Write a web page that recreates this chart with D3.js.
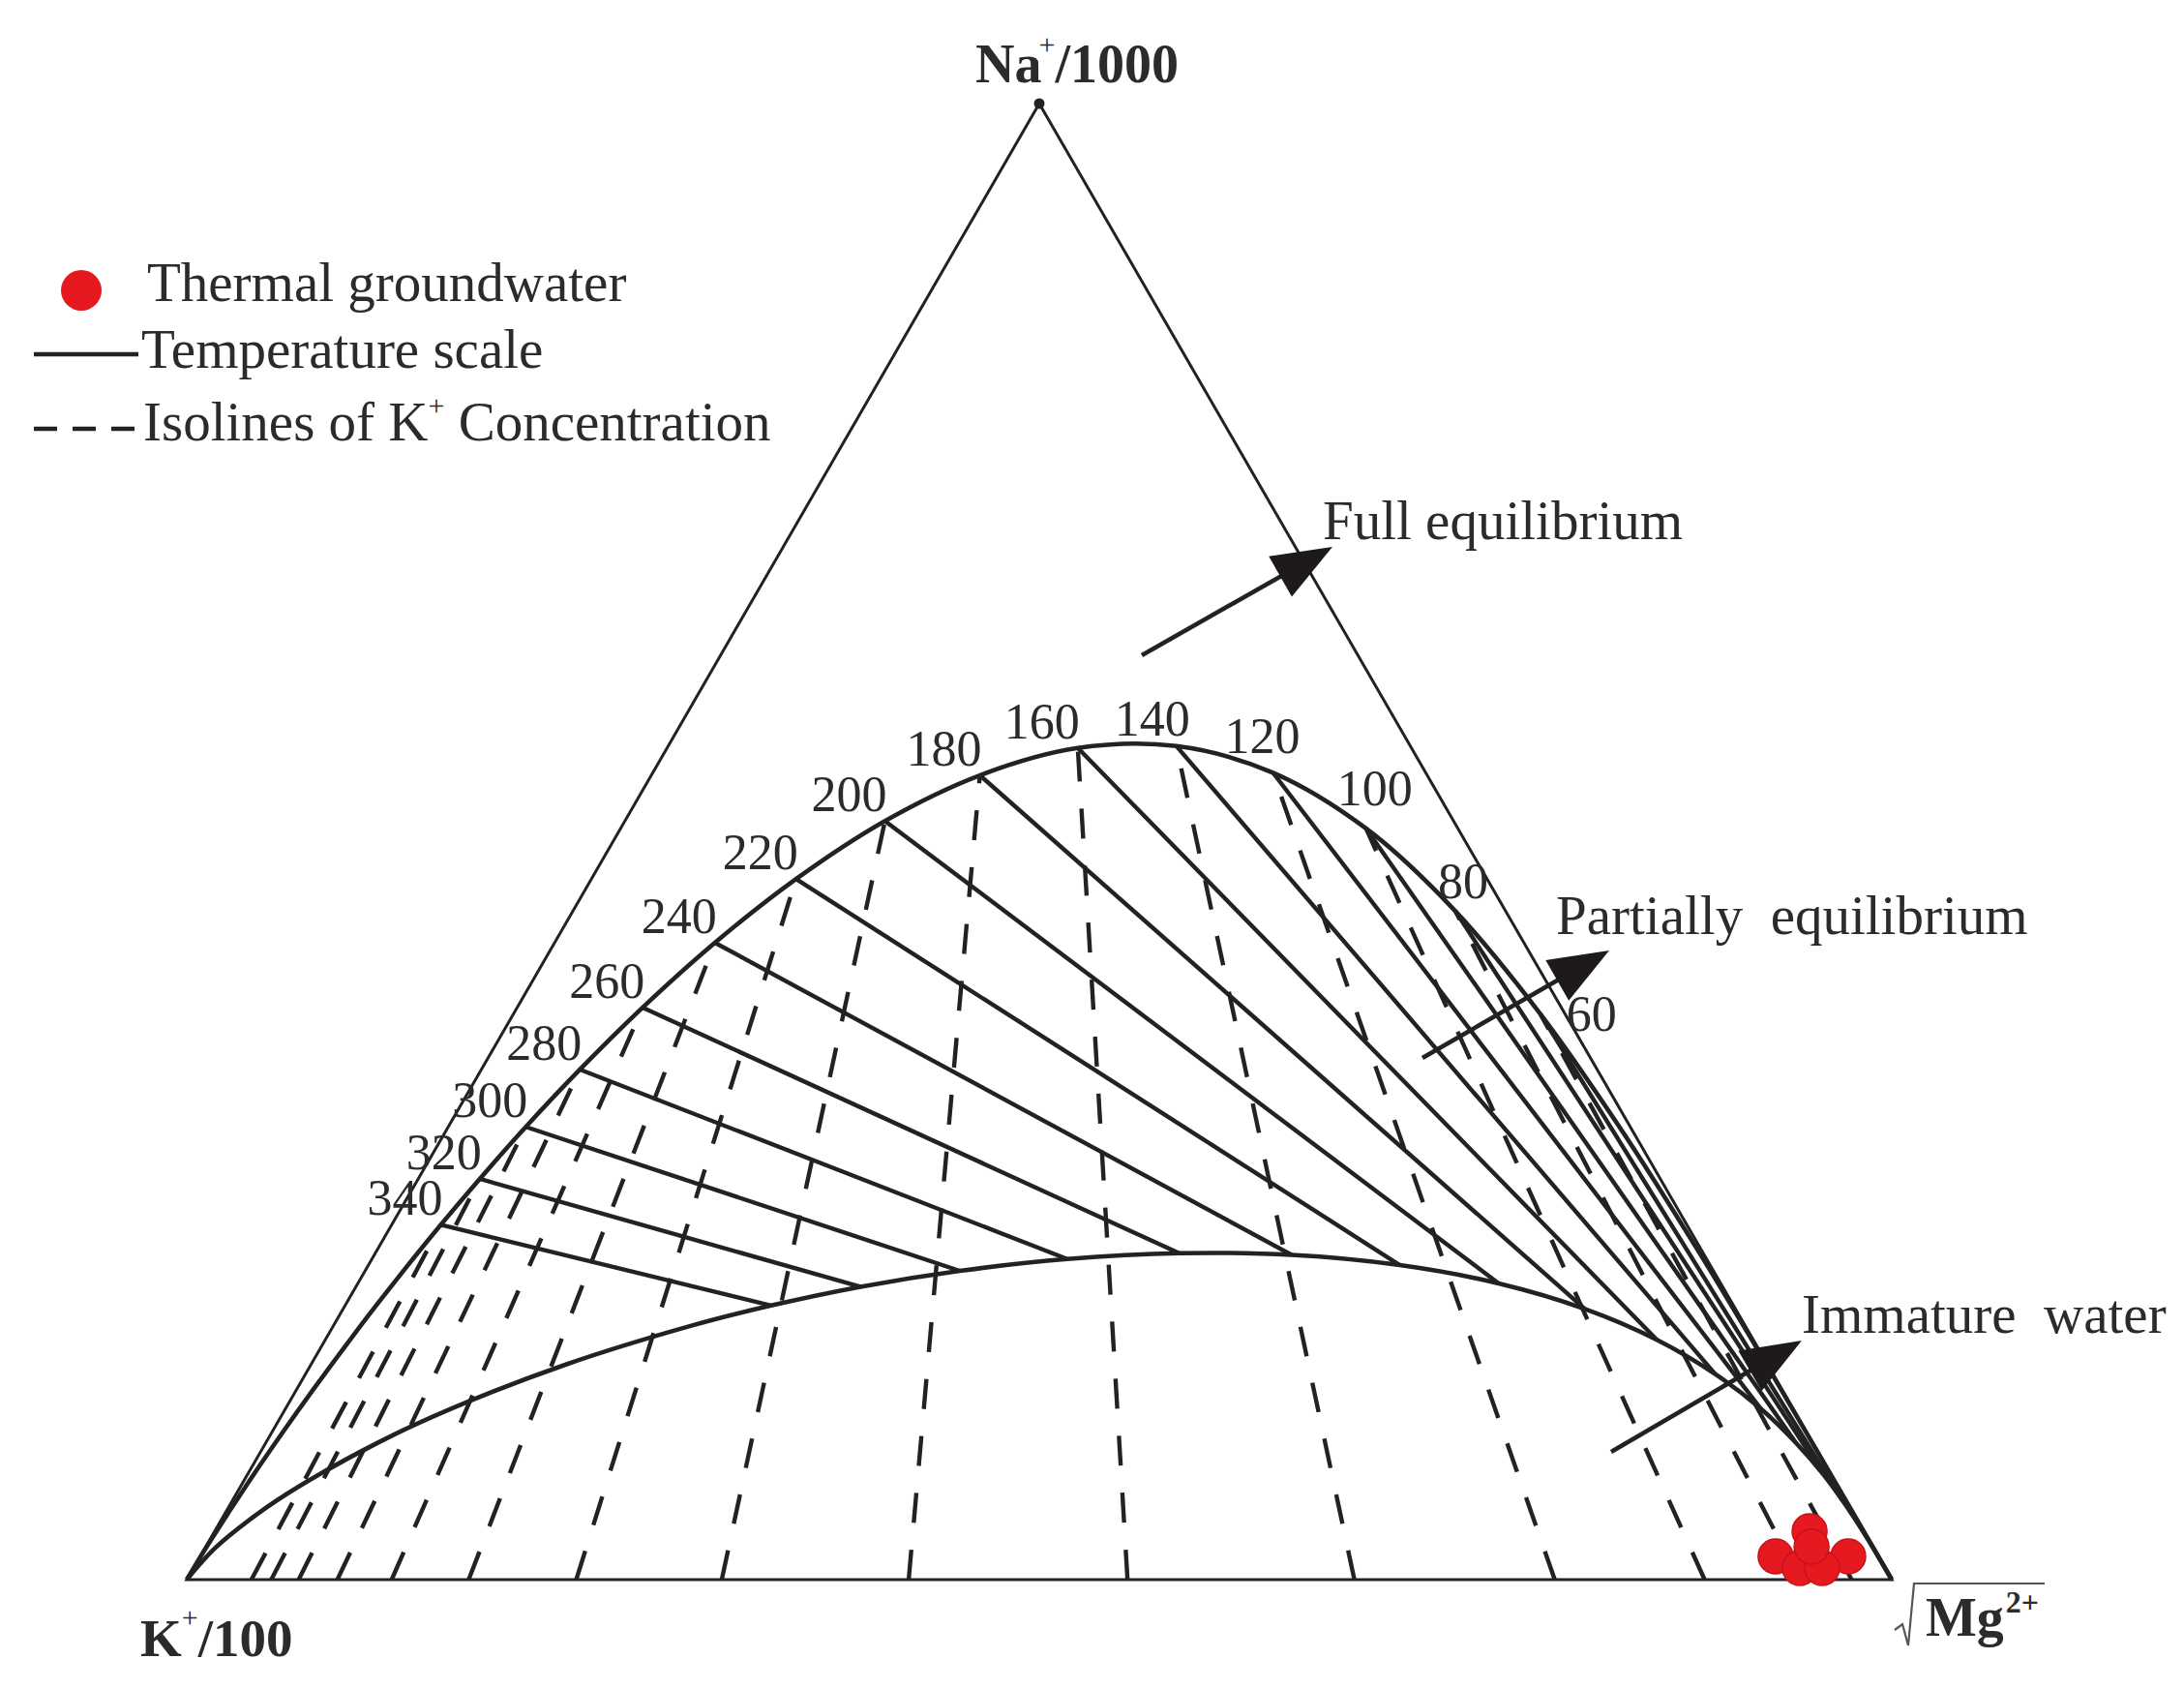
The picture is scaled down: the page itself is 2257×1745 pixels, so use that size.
<!DOCTYPE html>
<html>
<head>
<meta charset="utf-8">
<script src="https://cdn.jsdelivr.net/npm/d3@7"></script>
<style>
  html, body { margin: 0; padding: 0; background: #fff; }
  svg { display: block; }
  text { font-family: "Liberation Serif", "Times New Roman", serif; fill: #2b2b2b; }
</style>
</head>
<body>
<svg width="2257" height="1745"></svg>
<script>
// temperatures (deg C) written along the full equilibrium curve
const tempLabels = [340, 320, 300, 280, 260, 240, 220, 200, 180, 160, 140, 120, 100, 80, 60];

// full equilibrium point for each temperature, as [Na/1000, K/100, sqrtMg] fractions
const equilibrium = [
  [0.2404, 0.7308, 0.0288], [0.2715, 0.6924, 0.0361], [0.3067, 0.6478, 0.0455],
  [0.3456, 0.5966, 0.0578], [0.3876, 0.5388, 0.0736], [0.4315, 0.4745, 0.0940],
  [0.4747, 0.4053, 0.1200], [0.5140, 0.3335, 0.1525], [0.5449, 0.2624, 0.1927],
  [0.5634, 0.1957, 0.2409], [0.5647, 0.1372, 0.2981], [0.5467, 0.0896, 0.3637],
  [0.5089, 0.0539, 0.4372], [0.4529, 0.0295, 0.5176], [0.3832, 0.0145, 0.6023]
];

// where each temperature line meets the immature-water boundary
const immature = [
  [0.1857, 0.5644, 0.2499], [0.1984, 0.5057, 0.2959], [0.2092, 0.4420, 0.3488],
  [0.2172, 0.3750, 0.4078], [0.2211, 0.3074, 0.4715], [0.2200, 0.2420, 0.5380],
  [0.2131, 0.1820, 0.6049], [0.2007, 0.1302, 0.6691], [0.1834, 0.0883, 0.7283],
  [0.1625, 0.0565, 0.7810], [0.1393, 0.0339, 0.8268], [0.1157, 0.0189, 0.8654],
  [0.0928, 0.0099, 0.8973], [0.0719, 0.0046, 0.9235], [0.0534, 0.0020, 0.9446]
];

// rest of the two curves, out to the K and Mg corners
const equilibriumHot = [
  [0, 1, 0], [0.0215, 0.9780, 0.0005], [0.0455, 0.9527, 0.0018], [0.0648, 0.9321, 0.0031],
  [0.0998, 0.8938, 0.0064], [0.1281, 0.8622, 0.0097], [0.1685, 0.8161, 0.0154],
  [0.1891, 0.7921, 0.0188], [0.2130, 0.7638, 0.0232]
];
const equilibriumCold = [
  [0.3056, 0.0063, 0.6882], [0.2273, 0.0023, 0.7704], [0.1558, 0.0007, 0.8434], [0, 0, 1]
];
const immatureHot = [
  [0, 1, 0], [0.0214, 0.9727, 0.0059], [0.0447, 0.9360, 0.0193], [0.0628, 0.9033, 0.0339],
  [0.0937, 0.8395, 0.0668], [0.1166, 0.7849, 0.0985], [0.1456, 0.7052, 0.1492],
  [0.1722, 0.6174, 0.2104]
];
const immatureCold = [
  [0.0379, 0.0008, 0.9613], [0.0255, 0.0003, 0.9743], [0, 0, 1]
];

// thermal groundwater samples
const samples = [
  [0.0157, 0.0603, 0.9240], [0.0328, 0.0318, 0.9354], [0.0157, 0.0177, 0.9666],
  [0.0079, 0.0500, 0.9421], [0.0079, 0.0369, 0.9552], [0.0223, 0.0359, 0.9418]
];

const svg = d3.select("svg");
const ink = "#222";

// ternary -> pixel: x from (Mg + Na/2), y from Na
const xScale = d3.scaleLinear().domain([0, 1]).range([193, 1955]);
const yScale = d3.scaleLinear().domain([0, 1]).range([1632, 107]);
const px = (d) => {
  const s = d[0] + d[1] + d[2];
  return [xScale((d[2] + d[0] / 2) / s), yScale(d[0] / s)];
};

// triangle
svg.append("path")
  .attr("d", d3.line()([px([1, 0, 0]), px([0, 1, 0]), px([0, 0, 1])]) + "Z")
  .attr("fill", "none")
  .attr("stroke", ink)
  .attr("stroke-width", 3);

svg.append("circle")
  .attr("cx", px([1, 0, 0])[0])
  .attr("cy", px([1, 0, 0])[1])
  .attr("r", 5.5)
  .attr("fill", ink);

// dashed isolines: from the base up to each equilibrium point (towards the Na corner)
svg.append("g")
  .selectAll("line")
  .data(equilibrium)
  .join("line")
  .attr("x1", (d) => px([0, d[1], d[2]])[0])
  .attr("y1", (d) => px([0, d[1], d[2]])[1])
  .attr("x2", (d) => px(d)[0])
  .attr("y2", (d) => px(d)[1])
  .attr("stroke", ink)
  .attr("stroke-width", 4.4)
  .attr("stroke-dasharray", "31,28");

// temperature lines (towards the Mg corner)
svg.append("g")
  .selectAll("line")
  .data(d3.zip(equilibrium, immature))
  .join("line")
  .attr("x1", (d) => px(d[0])[0])
  .attr("y1", (d) => px(d[0])[1])
  .attr("x2", (d) => px(d[1])[0])
  .attr("y2", (d) => px(d[1])[1])
  .attr("stroke", ink)
  .attr("stroke-width", 4.4);

const curve = d3.line().curve(d3.curveCatmullRom.alpha(0.5));

svg.append("path")
  .attr("d", curve(equilibriumHot.concat(equilibrium, equilibriumCold).map(px)))
  .attr("fill", "none")
  .attr("stroke", ink)
  .attr("stroke-width", 4.6);

svg.append("path")
  .attr("d", curve(immatureHot.concat(immature, immatureCold).map(px)))
  .attr("fill", "none")
  .attr("stroke", ink)
  .attr("stroke-width", 4.6);

// temperature labels
const nudge = {
  140: [14, -11, "end"],
  120: [-50, -20, "start"],
  100: [-30, -24, "start"],
  80: [-18, -13, "start"],
  60: [27, 17, "start"],
};
svg.append("g")
  .selectAll("text")
  .data(tempLabels)
  .join("text")
  .attr("x", (t, i) => px(equilibrium[i])[0] + (nudge[t] ? nudge[t][0] : 2))
  .attr("y", (t, i) => px(equilibrium[i])[1] + (nudge[t] ? nudge[t][1] : -10))
  .attr("text-anchor", (t) => (nudge[t] ? nudge[t][2] : "end"))
  .attr("font-size", 52)
  .attr("fill", "#333")
  .text((t) => t);

// arrows
function arrow(x0, y0, x1, y1) {
  const dx = x1 - x0, dy = y1 - y0;
  const len = Math.hypot(dx, dy);
  const ux = dx / len, uy = dy / len;
  const bx = x1 - 62 * ux, by = y1 - 62 * uy;
  svg.append("line")
    .attr("x1", x0).attr("y1", y0)
    .attr("x2", bx + 6 * ux).attr("y2", by + 6 * uy)
    .attr("stroke", ink)
    .attr("stroke-width", 4.6);
  svg.append("polygon")
    .attr("points", [[x1, y1], [bx - 24 * uy, by + 24 * ux], [bx + 24 * uy, by - 24 * ux]].join(" "))
    .attr("fill", "#1e1a1a");
}
arrow(1180, 677, 1377, 565);
arrow(1470, 1093, 1663, 982);
arrow(1665, 1500, 1862, 1385);

const note = (x, y, s) =>
  svg.append("text")
    .attr("x", x).attr("y", y)
    .attr("font-size", 57)
    .attr("fill", "#333")
    .style("white-space", "pre")
    .text(s);
note(1367, 557, "Full equilibrium");
note(1608, 965, "Partially  equilibrium");
note(1862, 1377, "Immature  water");

// samples
svg.append("g")
  .selectAll("circle")
  .data(samples)
  .join("circle")
  .attr("cx", (d) => px(d)[0])
  .attr("cy", (d) => px(d)[1])
  .attr("r", 18)
  .attr("fill", "#e5191f")
  .attr("stroke", "#c4141a")
  .attr("stroke-width", 1.5);

// corner labels
const na = svg.append("text").attr("x", 1008).attr("y", 85)
  .attr("font-size", 56).attr("font-weight", "bold");
na.append("tspan").text("Na");
na.append("tspan").attr("font-size", 30).attr("font-weight", "normal").attr("dx", -3).attr("dy", -29).text("+");
na.append("tspan").attr("dy", 29).text("/1000");

const k = svg.append("text").attr("x", 145).attr("y", 1711)
  .attr("font-size", 55).attr("font-weight", "bold");
k.append("tspan").text("K");
k.append("tspan").attr("font-size", 30).attr("font-weight", "normal").attr("dx", 0).attr("dy", -30).text("+");
k.append("tspan").attr("dy", 30).text("/100");

svg.append("path")
  .attr("d", "M1958,1684 L1966,1678 L1972,1700 L1978,1636 L2113,1636")
  .attr("fill", "none")
  .attr("stroke", "#555")
  .attr("stroke-width", 2.2);
const mg = svg.append("text").attr("x", 1990).attr("y", 1690)
  .attr("font-size", 56).attr("font-weight", "bold");
mg.append("tspan").text("Mg");
mg.append("tspan").attr("font-size", 32).attr("dx", 2).attr("dy", -24).text("2+");

// legend
svg.append("circle").attr("cx", 84).attr("cy", 300).attr("r", 21).attr("fill", "#e5191f");
svg.append("line").attr("x1", 35).attr("x2", 143).attr("y1", 366).attr("y2", 366)
  .attr("stroke", ink).attr("stroke-width", 4.4);
svg.append("line").attr("x1", 35).attr("x2", 141).attr("y1", 443).attr("y2", 443)
  .attr("stroke", ink).attr("stroke-width", 4.4).attr("stroke-dasharray", "24,16");

const leg = (x, y) =>
  svg.append("text").attr("x", x).attr("y", y).attr("font-size", 57).attr("fill", "#1e1e1e");
leg(152, 311).text("Thermal groundwater");
leg(146, 380).text("Temperature scale");
const iso = leg(148, 455);
iso.append("tspan").text("Isolines of K");
iso.append("tspan").attr("font-size", 30).attr("dy", -26).text("+");
iso.append("tspan").attr("dy", 26).text(" Concentration");
</script>
</body>
</html>
